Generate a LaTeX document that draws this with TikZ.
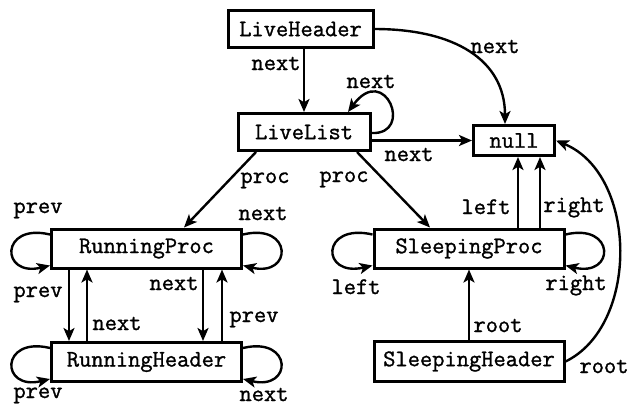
\documentclass[tikz,border=0pt]{standalone}
\usepackage{fontspec}
\newfontfamily\boldtt{Latin Modern Mono}[FakeBold=1.2]
\usetikzlibrary{arrows.meta}
\begin{document}
\begin{tikzpicture}[x=0.5pt,y=-0.5pt,
  font=\fontsize{11.9}{14}\selectfont\boldtt,
  obj/.style={draw, line width=1.5pt, inner sep=0pt, rectangle},
  lnk/.style={line width=1.2pt, -{Stealth[length=6.5pt,width=5.5pt,inset=1.6pt]}},
  lbl/.style={anchor=base, inner sep=0pt}]
\useasboundingbox (0,0) rectangle (636,409);

% boxes
\node[obj, minimum width=72.5pt, minimum height=18.5pt] (LH) at (300.5,29) {LiveHeader};
\node[obj, minimum width=66pt, minimum height=18.5pt] (LL) at (304,132) {LiveList};
\node[obj, minimum width=40.5pt, minimum height=15pt] (nul) at (514,140.5) {null};
\node[obj, minimum width=95pt, minimum height=19.5pt] (RP) at (146.5,248.5) {RunningProc};
\node[obj, minimum width=95pt, minimum height=19.5pt] (RH) at (146.5,362) {RunningHeader};
\node[obj, minimum width=95pt, minimum height=19.5pt] (SP) at (469,248.5) {SleepingProc};
\node[obj, minimum width=95pt, minimum height=20pt] (SH) at (469,361.5) {SleepingHeader};

% top part
\draw[lnk] (LL.north |- LH.south) -- (LL.north);
\node[lbl] (t1) at (276,70) {next};
\draw[lnk] ([yshift=-0.5pt]LL.east) .. controls +(43,2) and +(37,-50) .. ([xshift=22pt]LL.north);
\node[lbl] (t2) at (371,88) {next};
\draw[lnk] (LL.east |- nul.west) -- (nul.west);
\node[lbl] (t3) at (409,161) {next};
\draw[lnk] (LH.east) .. controls +(80,0) and +(0,-64) .. ([xshift=-4.5pt]nul.north);
\node[lbl] (t4) at (495,53) {next};

% proc links
\draw[lnk] ([xshift=-24pt]LL.south) -- ([xshift=18.75pt]RP.north);
\node[lbl] (t5) at (265,183) {proc};
\draw[lnk] ([xshift=26.5pt]LL.south) -- ([xshift=-19.5pt]SP.north);
\node[lbl] (t6) at (344,182) {proc};

% running proc loops
\draw[lnk] ([yshift=7pt]RP.west) .. controls +(-50,-12) and +(-50,12) .. ([yshift=-8.5pt]RP.west);
\node[lbl] (t7) at (38,213) {prev};
\draw[lnk] ([yshift=7pt]RP.east) .. controls +(50,-12) and +(50,12) .. ([yshift=-8.5pt]RP.east);
\node[lbl] (t8) at (263,220) {next};

% running header loops
\draw[lnk] ([yshift=7pt]RH.west) .. controls +(-50,-12) and +(-50,12) .. ([yshift=-8.5pt]RH.west);
\node[lbl] (t9) at (38,398) {prev};
\draw[lnk] ([yshift=7pt]RH.east) .. controls +(50,-12) and +(50,12) .. ([yshift=-8.5pt]RH.east);
\node[lbl] (t10) at (264,401) {next};

% vertical links running
\coordinate (v1) at ([xshift=-38.75pt]RP.south);
\coordinate (v2) at ([xshift=-29.75pt]RP.south);
\coordinate (v3) at ([xshift=28.25pt]RP.south);
\coordinate (v4) at ([xshift=37.75pt]RP.south);
\draw[lnk] (v1) -- (v1 |- RH.north);
\node[lbl] (t11) at (38,297) {prev};
\draw[lnk] (v2 |- RH.north) -- (v2);
\node[lbl] (t12) at (117,330) {next};
\draw[lnk] (v3) -- (v3 |- RH.north);
\node[lbl] (t13) at (174,290) {next};
\draw[lnk] (v4 |- RH.north) -- (v4);
\node[lbl] (t14) at (254,322) {prev};

% sleeping proc
\coordinate (n1) at ([xshift=2pt]nul.south);
\coordinate (n2) at ([xshift=13pt]nul.south);
\draw[lnk] (n1 |- SP.north) -- (n1);
\node[lbl] (t15) at (486,214) {left};
\draw[lnk] (n2 |- SP.north) -- (n2);
\node[lbl] (t16) at (574,212) {right};
\draw[lnk] ([yshift=7pt]SP.west) .. controls +(-52,-12) and +(-52,12) .. ([yshift=-8.5pt]SP.west);
\node[lbl] (t17) at (356,294) {left};
\draw[lnk] ([yshift=7pt]SP.east) .. controls +(50,-12) and +(50,12) .. ([yshift=-8.5pt]SP.east);
\node[lbl] (t18) at (576,290) {right};

% sleeping header
\draw[lnk] (SH.north) -- (SP.south);
\node[lbl] (t19) at (498,332) {root};
\draw[lnk] (SH.east) .. controls +(74,-36) and +(82,34) .. (nul.east);
\node[lbl] (t20) at (604,373) {root};
\end{tikzpicture}
\end{document}
